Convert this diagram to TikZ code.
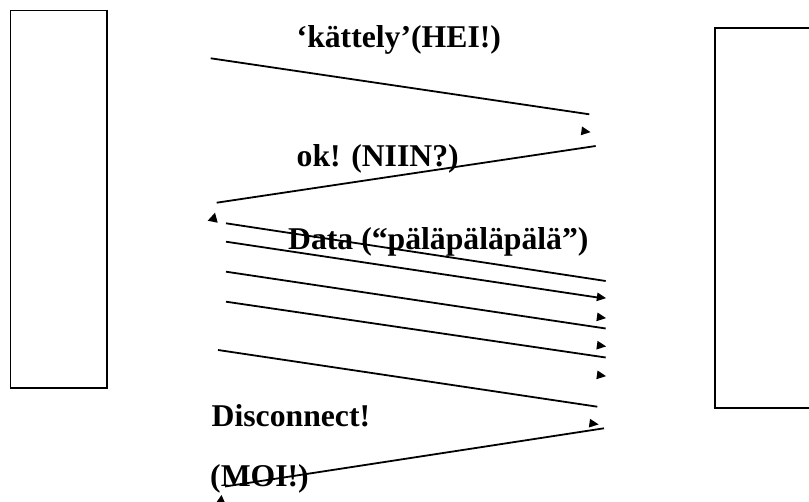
\documentclass[tikz,border=0pt]{standalone}
\usepackage{fontspec}
\setmainfont{Liberation Serif}
\begin{document}
\begin{tikzpicture}[x=1pt,y=-1pt,
  box/.style={draw,line width=1.5pt,rectangle,inner sep=0pt},
  msg/.style={line width=1.8pt},
  lbl/.style={anchor=base west,inner sep=0pt,font=\fontsize{31.7}{38}\selectfont\bfseries},
  rtip/.pic={\fill (-4.6,-4.4) -- (4.6,0) -- (-4.6,4.4) -- cycle;}
]
\clip (0,0) rectangle (809,502);
\useasboundingbox (0,0) rectangle (809,502);
% hosts
\node[box,minimum width=96.3pt,minimum height=377.3pt] (left) at (58.85,199.35) {};
\node[box,minimum width=150pt,minimum height=380pt] (right) at (790,218) {};
% end points
\coordinate (a1) at (210.7,58.3);  \coordinate (b1) at (589.3,114.3);
\coordinate (a2) at (595.7,146);   \coordinate (b2) at (216.7,202.7);
\coordinate (a3) at (226,223.3);   \coordinate (b3) at (605.7,281);
\coordinate (a4) at (226,241.7);   \coordinate (b4) at (601,298);
\coordinate (a5) at (226,271.7);   \coordinate (b5) at (605.7,328.5);
\coordinate (a6) at (226,301.7);   \coordinate (b6) at (605.7,357.5);
\coordinate (a7) at (218,350);     \coordinate (b7) at (597.3,406.7);
\coordinate (a8) at (604,428.3);   \coordinate (b8) at (225,486.5);
% messages
\draw[msg] (a1) -- (b1);
\draw[msg] (a2) -- (b2);
\draw[msg] (a3) -- (b3);
\draw[msg] (a4) -- (b4);
\draw[msg] (a5) -- (b5);
\draw[msg] (a6) -- (b6);
\draw[msg] (a7) -- (b7);
\draw[msg] (a8) -- (b8);
% arrow heads (detached)
\pic[rotate=-8] at (586,131.5) {rtip};
\pic[rotate=-8] at (601.5,297.5) {rtip};
\pic[rotate=-8] at (601.5,317.5) {rtip};
\pic[rotate=-8] at (601.5,345.8) {rtip};
\pic[rotate=-8] at (601.5,375.5) {rtip};
\pic[rotate=-8] at (594,423.8) {rtip};
\fill (215,212.7) -- (207.7,220.7) -- (217.7,222.7) -- cycle;
\fill (221.5,495) -- (216,503) -- (225.5,504) -- cycle;
% labels
\node[lbl] (t1) at (296.5,48) {‘kättely’(HEI!)};
\node[lbl] (t2) at (296.5,166.7) {ok! (NIIN?)};
\node[lbl] (t3) at (288,250) {Data (“päläpäläpälä”)};
\node[lbl] (t4) at (211.5,426.7) {Disconnect!};
\node[lbl] (t5) at (210,486.5) {(MOI!)};
\end{tikzpicture}
\end{document}
